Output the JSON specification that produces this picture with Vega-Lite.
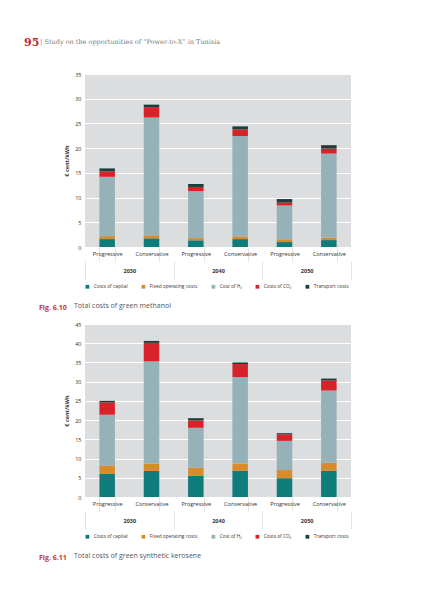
{
  "$schema": "https://vega.github.io/schema/vega-lite/v6.json",
  "padding": {"left": 24, "top": 37, "right": 5, "bottom": 5},
  "background": "white",
  "title": {
    "text": "95",
    "subtitle": "\u200b\u2003\u2003\u2002| Study on the opportunities of “Power-to-X” in Tunisia",
    "anchor": "start",
    "dx": -15,
    "color": "#c0272d",
    "fontSize": 11,
    "fontWeight": "bold",
    "font": "DejaVu Serif",
    "subtitleFont": "DejaVu Serif",
    "subtitleFontSize": 6.5,
    "subtitleColor": "#777777",
    "subtitlePadding": -9,
    "offset": 24
  },
  "config": {
    "font": "Open Sans",
    "view": {"fill": "#dcddde", "stroke": null},
    "axis": {"labelFontSize": 5.5, "labelColor": "#333333", "titleColor": "#333333"},
    "legend": {
      "orient": "bottom",
      "direction": "horizontal",
      "title": null,
      "symbolType": "square",
      "symbolSize": 14,
      "symbolStrokeWidth": 0,
      "labelFontSize": 4.8,
      "labelColor": "#333333",
      "columnPadding": 13,
      "offset": 4,
      "labelLimit": 200
    }
  },
  "datasets": {
    "methanol": [
      {"bar": "2030 Progressive", "year": "2030", "part": "Costs of capital", "v": 1.6},
      {"bar": "2030 Progressive", "year": "2030", "part": "Fixed operating costs", "v": 0.6},
      {"bar": "2030 Progressive", "year": "2030", "part": "Cost of H₂", "v": 12.0},
      {"bar": "2030 Progressive", "year": "2030", "part": "Costs of CO₂", "v": 1.1},
      {"bar": "2030 Progressive", "year": "2030", "part": "Transport costs", "v": 0.6},
      {"bar": "2030 Conservative", "year": "2030", "part": "Costs of capital", "v": 1.75},
      {"bar": "2030 Conservative", "year": "2030", "part": "Fixed operating costs", "v": 0.6},
      {"bar": "2030 Conservative", "year": "2030", "part": "Cost of H₂", "v": 23.85},
      {"bar": "2030 Conservative", "year": "2030", "part": "Costs of CO₂", "v": 2.0},
      {"bar": "2030 Conservative", "year": "2030", "part": "Transport costs", "v": 0.6},
      {"bar": "2040 Progressive", "year": "2040", "part": "Costs of capital", "v": 1.35},
      {"bar": "2040 Progressive", "year": "2040", "part": "Fixed operating costs", "v": 0.45},
      {"bar": "2040 Progressive", "year": "2040", "part": "Cost of H₂", "v": 9.5},
      {"bar": "2040 Progressive", "year": "2040", "part": "Costs of CO₂", "v": 0.85},
      {"bar": "2040 Progressive", "year": "2040", "part": "Transport costs", "v": 0.6},
      {"bar": "2040 Conservative", "year": "2040", "part": "Costs of capital", "v": 1.6},
      {"bar": "2040 Conservative", "year": "2040", "part": "Fixed operating costs", "v": 0.55},
      {"bar": "2040 Conservative", "year": "2040", "part": "Cost of H₂", "v": 20.3},
      {"bar": "2040 Conservative", "year": "2040", "part": "Costs of CO₂", "v": 1.35},
      {"bar": "2040 Conservative", "year": "2040", "part": "Transport costs", "v": 0.6},
      {"bar": "2050 Progressive", "year": "2050", "part": "Costs of capital", "v": 1.0},
      {"bar": "2050 Progressive", "year": "2050", "part": "Fixed operating costs", "v": 0.55},
      {"bar": "2050 Progressive", "year": "2050", "part": "Cost of H₂", "v": 6.85},
      {"bar": "2050 Progressive", "year": "2050", "part": "Costs of CO₂", "v": 0.6},
      {"bar": "2050 Progressive", "year": "2050", "part": "Transport costs", "v": 0.7},
      {"bar": "2050 Conservative", "year": "2050", "part": "Costs of capital", "v": 1.4},
      {"bar": "2050 Conservative", "year": "2050", "part": "Fixed operating costs", "v": 0.5},
      {"bar": "2050 Conservative", "year": "2050", "part": "Cost of H₂", "v": 17.0},
      {"bar": "2050 Conservative", "year": "2050", "part": "Costs of CO₂", "v": 1.0},
      {"bar": "2050 Conservative", "year": "2050", "part": "Transport costs", "v": 0.7}
    ],
    "kerosene": [
      {"bar": "2030 Progressive", "year": "2030", "part": "Costs of capital", "v": 6.0},
      {"bar": "2030 Progressive", "year": "2030", "part": "Fixed operating costs", "v": 2.2},
      {"bar": "2030 Progressive", "year": "2030", "part": "Cost of H₂", "v": 13.2},
      {"bar": "2030 Progressive", "year": "2030", "part": "Costs of CO₂", "v": 3.2},
      {"bar": "2030 Progressive", "year": "2030", "part": "Transport costs", "v": 0.4},
      {"bar": "2030 Conservative", "year": "2030", "part": "Costs of capital", "v": 6.8},
      {"bar": "2030 Conservative", "year": "2030", "part": "Fixed operating costs", "v": 1.9},
      {"bar": "2030 Conservative", "year": "2030", "part": "Cost of H₂", "v": 26.6},
      {"bar": "2030 Conservative", "year": "2030", "part": "Costs of CO₂", "v": 4.8},
      {"bar": "2030 Conservative", "year": "2030", "part": "Transport costs", "v": 0.5},
      {"bar": "2040 Progressive", "year": "2040", "part": "Costs of capital", "v": 5.5},
      {"bar": "2040 Progressive", "year": "2040", "part": "Fixed operating costs", "v": 2.1},
      {"bar": "2040 Progressive", "year": "2040", "part": "Cost of H₂", "v": 10.4},
      {"bar": "2040 Progressive", "year": "2040", "part": "Costs of CO₂", "v": 1.9},
      {"bar": "2040 Progressive", "year": "2040", "part": "Transport costs", "v": 0.6},
      {"bar": "2040 Conservative", "year": "2040", "part": "Costs of capital", "v": 6.8},
      {"bar": "2040 Conservative", "year": "2040", "part": "Fixed operating costs", "v": 1.9},
      {"bar": "2040 Conservative", "year": "2040", "part": "Cost of H₂", "v": 22.5},
      {"bar": "2040 Conservative", "year": "2040", "part": "Costs of CO₂", "v": 3.4},
      {"bar": "2040 Conservative", "year": "2040", "part": "Transport costs", "v": 0.4},
      {"bar": "2050 Progressive", "year": "2050", "part": "Costs of capital", "v": 4.9},
      {"bar": "2050 Progressive", "year": "2050", "part": "Fixed operating costs", "v": 2.1},
      {"bar": "2050 Progressive", "year": "2050", "part": "Cost of H₂", "v": 7.6},
      {"bar": "2050 Progressive", "year": "2050", "part": "Costs of CO₂", "v": 1.7},
      {"bar": "2050 Progressive", "year": "2050", "part": "Transport costs", "v": 0.3},
      {"bar": "2050 Conservative", "year": "2050", "part": "Costs of capital", "v": 6.8},
      {"bar": "2050 Conservative", "year": "2050", "part": "Fixed operating costs", "v": 2.1},
      {"bar": "2050 Conservative", "year": "2050", "part": "Cost of H₂", "v": 18.8},
      {"bar": "2050 Conservative", "year": "2050", "part": "Costs of CO₂", "v": 2.6},
      {"bar": "2050 Conservative", "year": "2050", "part": "Transport costs", "v": 0.5}
    ]
  },
  "resolve": {"legend": {"color": "independent"}},
  "spacing": 11,
  "vconcat": [
    {
      "width": 266,
      "height": 173,
      "data": {"name": "methanol"},
      "transform": [
        {"calculate": "indexof(['Costs of capital', 'Fixed operating costs', 'Cost of H₂', 'Costs of CO₂', 'Transport costs'], datum.part)", "as": "stackorder"}
      ],
      "title": {
        "text": "Fig. 6.10",
        "subtitle": "\u200b\u2003\u2003\u2003\u2003\u2003Total costs of green methanol",
        "orient": "bottom",
        "anchor": "start",
        "frame": "group",
        "dx": -46,
        "offset": 15,
        "fontSize": 7,
        "fontWeight": "bold",
        "color": "#c8323a",
        "subtitleFontSize": 7,
        "subtitleColor": "#555555",
        "subtitlePadding": -9
      },
      "layer": [
        {
          "mark": {"type": "bar"},
          "encoding": {
            "x": {
              "field": "bar", "type": "nominal",
              "sort": ["2030 Progressive", "2030 Conservative", "2040 Progressive", "2040 Conservative", "2050 Progressive", "2050 Conservative"],
              "scale": {"paddingInner": 0.65, "paddingOuter": 0.325},
              "axis": {"title": null, "labelExpr": "split(datum.label, ' ')[1]", "labelAngle": 0, "labelPadding": -10, "domain": false, "tickBand": "extent", "tickSize": 14, "tickColor": "#e4e4e4", "grid": false}
            },
            "y": {
              "aggregate": "sum", "field": "v", "type": "quantitative",
              "scale": {"domain": [0, 35]},
              "axis": {"title": "€ cent/kWh", "titleFontSize": 5.5, "titleFontWeight": "bold", "titlePadding": 5, "values": [0, 5, 10, 15, 20, 25, 30, 35], "ticks": false, "domain": false, "labelPadding": 4, "gridColor": "white", "gridWidth": 1}
            },
            "color": {
              "field": "part", "type": "nominal",
              "sort": ["Costs of capital", "Fixed operating costs", "Cost of H₂", "Costs of CO₂", "Transport costs"],
              "scale": {"domain": ["Costs of capital", "Fixed operating costs", "Cost of H₂", "Costs of CO₂", "Transport costs"], "range": ["#0e7c7b", "#d98a2b", "#94b2b8", "#d8222a", "#17403a"]}
            },
            "order": {"field": "stackorder", "type": "quantitative"}
          }
        },
        {
          "mark": {"type": "rule", "opacity": 0},
          "encoding": {
            "x": {
              "field": "year", "type": "nominal",
              "scale": {"type": "band", "paddingInner": 0, "paddingOuter": 0},
              "axis": {"orient": "bottom", "offset": 14, "title": null, "labelAngle": 0, "labelFontWeight": "bold", "labelPadding": -11, "domain": false, "tickBand": "extent", "tickSize": 18, "tickColor": "#e4e4e4", "grid": false}
            }
          }
        }
      ],
      "resolve": {"scale": {"x": "independent"}}
    },
    {
      "width": 266,
      "height": 173,
      "data": {"name": "kerosene"},
      "transform": [
        {"calculate": "indexof(['Costs of capital', 'Fixed operating costs', 'Cost of H₂', 'Costs of CO₂', 'Transport costs'], datum.part)", "as": "stackorder"}
      ],
      "title": {
        "text": "Fig. 6.11",
        "subtitle": "\u200b\u2003\u2003\u2003\u2003\u2003Total costs of green synthetic kerosene",
        "orient": "bottom",
        "anchor": "start",
        "frame": "group",
        "dx": -46,
        "offset": 15,
        "fontSize": 7,
        "fontWeight": "bold",
        "color": "#c8323a",
        "subtitleFontSize": 7,
        "subtitleColor": "#555555",
        "subtitlePadding": -9
      },
      "layer": [
        {
          "mark": {"type": "bar"},
          "encoding": {
            "x": {
              "field": "bar", "type": "nominal",
              "sort": ["2030 Progressive", "2030 Conservative", "2040 Progressive", "2040 Conservative", "2050 Progressive", "2050 Conservative"],
              "scale": {"paddingInner": 0.65, "paddingOuter": 0.325},
              "axis": {"title": null, "labelExpr": "split(datum.label, ' ')[1]", "labelAngle": 0, "labelPadding": -10, "domain": false, "tickBand": "extent", "tickSize": 14, "tickColor": "#e4e4e4", "grid": false}
            },
            "y": {
              "aggregate": "sum", "field": "v", "type": "quantitative",
              "scale": {"domain": [0, 45]},
              "axis": {"title": "€ cent/kWh", "titleFontSize": 5.5, "titleFontWeight": "bold", "titlePadding": 5, "values": [0, 5, 10, 15, 20, 25, 30, 35, 40, 45], "ticks": false, "domain": false, "labelPadding": 4, "gridColor": "white", "gridWidth": 1}
            },
            "color": {
              "field": "part", "type": "nominal",
              "sort": ["Costs of capital", "Fixed operating costs", "Cost of H₂", "Costs of CO₂", "Transport costs"],
              "scale": {"domain": ["Costs of capital", "Fixed operating costs", "Cost of H₂", "Costs of CO₂", "Transport costs"], "range": ["#0e7c7b", "#d98a2b", "#94b2b8", "#d8222a", "#17403a"]}
            },
            "order": {"field": "stackorder", "type": "quantitative"}
          }
        },
        {
          "mark": {"type": "rule", "opacity": 0},
          "encoding": {
            "x": {
              "field": "year", "type": "nominal",
              "scale": {"type": "band", "paddingInner": 0, "paddingOuter": 0},
              "axis": {"orient": "bottom", "offset": 14, "title": null, "labelAngle": 0, "labelFontWeight": "bold", "labelPadding": -11, "domain": false, "tickBand": "extent", "tickSize": 18, "tickColor": "#e4e4e4", "grid": false}
            }
          }
        }
      ],
      "resolve": {"scale": {"x": "independent"}}
    }
  ]
}
